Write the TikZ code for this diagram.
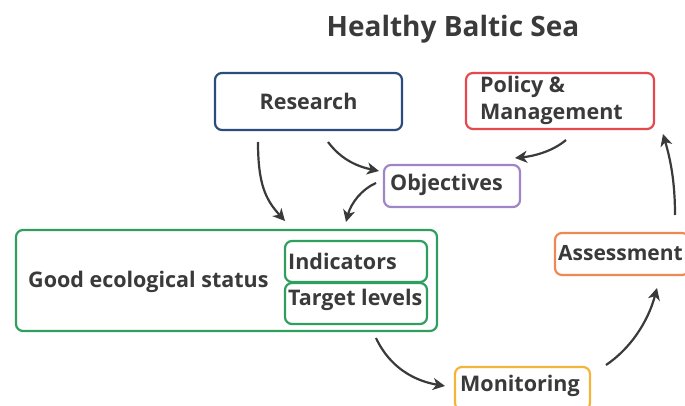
\documentclass[tikz,border=0pt]{standalone}
\usepackage{fontspec}
\setmainfont{Open Sans}
\usetikzlibrary{arrows.meta}
\definecolor{txt}{HTML}{3A3A3A}
\definecolor{cblue}{HTML}{2B4C7E}
\definecolor{cred}{HTML}{E5484D}
\definecolor{cpurple}{HTML}{A084C8}
\definecolor{cgreen}{HTML}{2F9E5E}
\definecolor{corange}{HTML}{EE8855}
\definecolor{cyellow}{HTML}{F4B43A}
\tikzset{
  box/.style={draw, line width=2.2pt, rounded corners=7pt, fill=white, text=txt, font=\bfseries\fontsize{21.5}{27}\selectfont, inner sep=0pt},
  lbl/.style={text=txt, font=\bfseries\fontsize{21.5}{27}\selectfont, inner sep=0pt, anchor=west},
  arr/.style={draw=txt, line width=2.2pt, -{Stealth[length=12pt,width=12pt,inset=3.5pt]}},
}
\begin{document}
\begin{tikzpicture}[x=1pt,y=-1pt]
\useasboundingbox (0,0) rectangle (685,406);
\node[text=txt, font=\bfseries\fontsize{28}{32}\selectfont] (title) at (453,29) {Healthy Baltic Sea};
\node[box, draw=cblue, minimum width=187pt, minimum height=57pt] (research) at (308.5,101.5) {Research};
\node[box, draw=cred, minimum width=188pt, minimum height=56pt] (policy) at (560,101) {};
\node[lbl, align=left] (policytext) at (480,100.5) {Policy \&\\Management};
\node[box, draw=cpurple, minimum width=136pt, minimum height=42pt] (objectives) at (452,186) {};
\node[lbl] (objtext) at (390,185) {Objectives};
\node[box, draw=cgreen, minimum width=421pt, minimum height=101pt] (ges) at (226.5,280.5) {};
\node[lbl] (gestext) at (28,281.5) {Good ecological status};
\node[box, draw=cgreen, minimum width=142pt, minimum height=41pt] (ind) at (356,261.5) {};
\node[lbl] (indtext) at (288,261) {Indicators};
\node[box, draw=cgreen, minimum width=142pt, minimum height=41pt] (tl) at (356,303.5) {};
\node[lbl] (tltext) at (288,300) {Target levels};
\node[box, draw=corange, minimum width=134pt, minimum height=42pt] (assess) at (622,254) {};
\node[lbl, font=\bfseries\fontsize{21}{27}\selectfont] (asstext) at (558,253) {Assessment};
\node[box, draw=cyellow, minimum width=135pt, minimum height=43pt] (monit) at (522.5,388.5) {};
\node[lbl] (montext) at (460,386) {Monitoring};
% connector ends
\coordinate (a1) at (258,142); \coordinate (b1) at (285,221);
\coordinate (a2) at (328,142); \coordinate (b2) at (379,171);
\coordinate (a3) at (566,140); \coordinate (b3) at (515,158);
\coordinate (a4) at (376,183); \coordinate (b4) at (346,222);
\coordinate (a5) at (376,338); \coordinate (b5) at (445,386);
\coordinate (a6) at (606,365); \coordinate (b6) at (657,288);
\coordinate (a7) at (675,215); \coordinate (b7) at (663,134);
\draw[arr] (a1) .. controls (258,185) and (266,200) .. (b1);
\draw[arr] (a2) .. controls (340,158) and (355,166) .. (b2);
\draw[arr] (a3) .. controls (553,151) and (535,156) .. (b3);
\draw[arr] (a4) .. controls (362,189) and (351,203) .. (b4);
\draw[arr] (a5) .. controls (390,368) and (415,381) .. (b5);
\draw[arr] (a6) .. controls (630,349) and (648,322) .. (b6);
\draw[arr] (a7) .. controls (675,180) and (670,158) .. (b7);
\end{tikzpicture}
\end{document}
